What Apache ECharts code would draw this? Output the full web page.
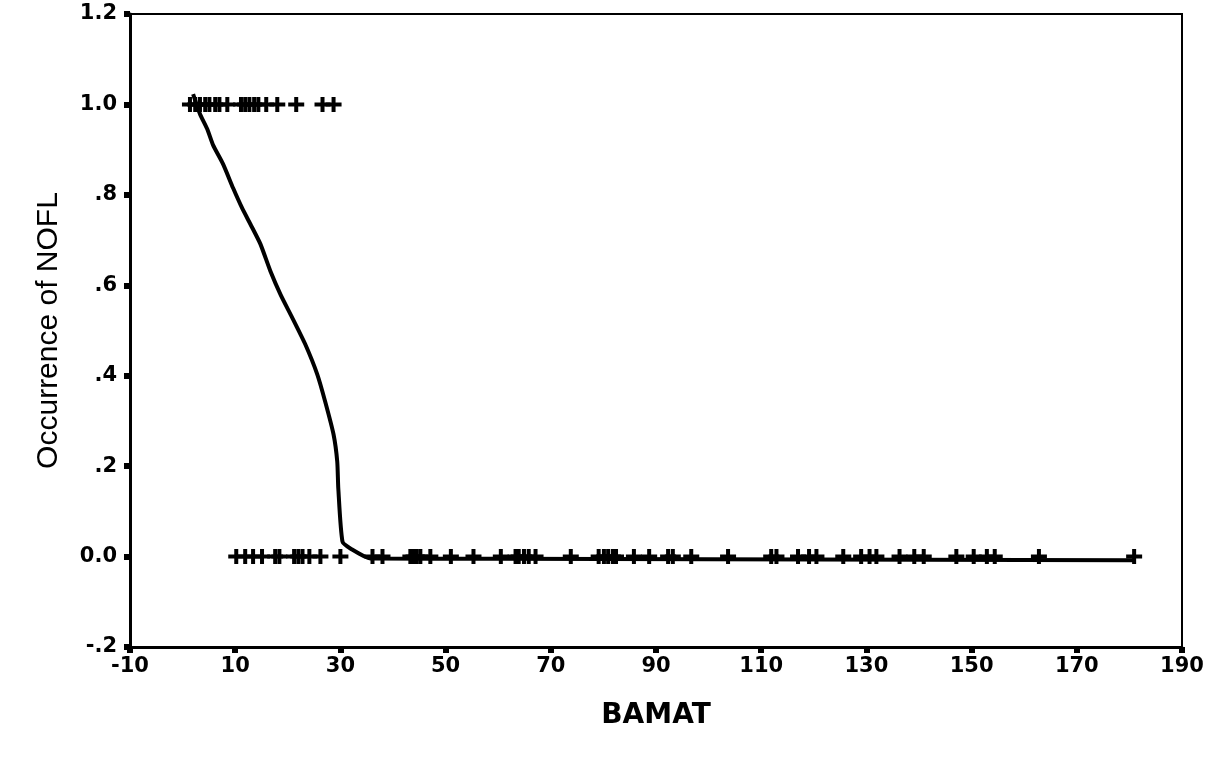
<!DOCTYPE html>
<html>
<head>
<meta charset="utf-8">
<script src="https://cdn.jsdelivr.net/npm/echarts@6/dist/echarts.min.js"></script>
<style>
  html, body { margin: 0; padding: 0; background: #fff; }
  #chart { width: 1214px; height: 758px; }
</style>
</head>
<body>
<div id="chart"></div>
<script>
// Observed cases: BAMAT values where NOFL occurred (1) and did not occur (0)
var bamatPresent = [1.4, 2.4, 3.3, 4.3, 5.1, 6.2, 7.0, 8.5, 11.1, 11.9, 12.7, 13.6, 14.4, 15.9, 18.0, 21.6, 26.6, 28.7];
var bamatAbsent = [10.2, 11.9, 13.4, 15.1, 17.6, 18.4, 21.2, 22.0, 22.8, 24.1, 26.2, 30.0, 36.1, 38.0,
  43.3, 43.9, 44.5, 45.2, 47.1, 51.0, 55.3, 60.5, 63.3, 63.9, 64.9, 65.8, 67.1, 73.8,
  79.1, 80.1, 80.9, 81.8, 82.4, 85.8, 88.7, 92.3, 93.2, 96.7, 103.7, 111.9, 112.9,
  117.0, 119.1, 120.5, 125.6, 129.0, 130.6, 131.9, 136.3, 139.1, 140.9, 147.1, 150.4,
  152.9, 154.4, 162.8, 180.9];

// Smoothed occurrence curve
var curveX = [2.0, 3.3, 4.7, 5.8, 7.7, 9.6, 11.3, 12.9, 14.8, 16.7, 18.6, 20.9, 23.3, 25.6, 27.1, 28.7, 29.4, 29.6, 30.4, 31.9, 35.7, 60, 100, 140, 180.9];
var curveY = [1.023, 0.979, 0.945, 0.910, 0.868, 0.815, 0.771, 0.735, 0.691, 0.631, 0.580, 0.527, 0.470, 0.403, 0.343, 0.270, 0.210, 0.151, 0.033, 0.018, -0.004, -0.005, -0.006, -0.007, -0.008];

// Axis ticks and labels
var xTicks = [-10, 10, 30, 50, 70, 90, 110, 130, 150, 170, 190];
var yTickLabels = ['-.2', '0.0', '.2', '.4', '.6', '.8', '1.0', '1.2'];

var presentPts = bamatPresent.map(function (x) { return [x, 1]; });
var absentPts = bamatAbsent.map(function (x) { return [x, 0]; });
var curvePts = curveX.map(function (x, i) { return [x, curveY[i]]; });

var plusPath = 'path://M0,5.5H6V0H10V5.5H16V9.5H10V15H6V9.5H0Z';
var tickFont = { fontFamily: 'DejaVu Sans', fontWeight: 'bold', fontSize: 21, color: '#000' };
var markStyle = { color: '#000', opacity: 1 };

var chart = echarts.init(document.getElementById('chart'), null, { renderer: 'canvas' });
chart.setOption({
  animation: false,
  backgroundColor: '#fff',
  grid: {
    left: 130, right: 32, top: 14, bottom: 111,
    show: true, borderColor: '#000', borderWidth: 2, backgroundColor: 'transparent'
  },
  xAxis: {
    type: 'value', min: -10, max: 190,
    name: 'BAMAT', nameLocation: 'middle', nameGap: 55,
    nameTextStyle: { fontFamily: 'DejaVu Sans', fontWeight: 'bold', fontSize: 28, color: '#000' },
    axisLine: { show: true, onZero: false, lineStyle: { color: '#000', width: 3 } },
    axisTick: { show: true, customValues: xTicks, length: 6, lineStyle: { color: '#000', width: 6 } },
    axisLabel: Object.assign({ customValues: xTicks, margin: 9 }, tickFont),
    splitLine: { show: false }
  },
  yAxis: {
    type: 'value', min: -0.2, max: 1.2, interval: 0.2,
    name: 'Occurrence of NOFL', nameLocation: 'middle', nameGap: 66, nameRotate: 90,
    nameTextStyle: { fontFamily: 'Liberation Sans', fontSize: 30, color: '#000' },
    axisLine: { show: true, onZero: false, lineStyle: { color: '#000', width: 3 } },
    axisTick: { show: true, length: 6, lineStyle: { color: '#000', width: 6 } },
    axisLabel: Object.assign({
      margin: 13,
      formatter: function (v) { return yTickLabels[Math.round((v + 0.2) / 0.2)]; }
    }, tickFont),
    splitLine: { show: false }
  },
  series: [
    {
      type: 'line', data: curvePts, showSymbol: false, smooth: 0.2,
      lineStyle: { color: '#000', width: 4 }, z: 3
    },
    {
      type: 'scatter', data: presentPts, symbol: plusPath, symbolSize: [16, 15],
      itemStyle: markStyle, z: 4
    },
    {
      type: 'scatter', data: absentPts, symbol: plusPath, symbolSize: [16, 15],
      itemStyle: markStyle, z: 4
    }
  ]
});
</script>
</body>
</html>
